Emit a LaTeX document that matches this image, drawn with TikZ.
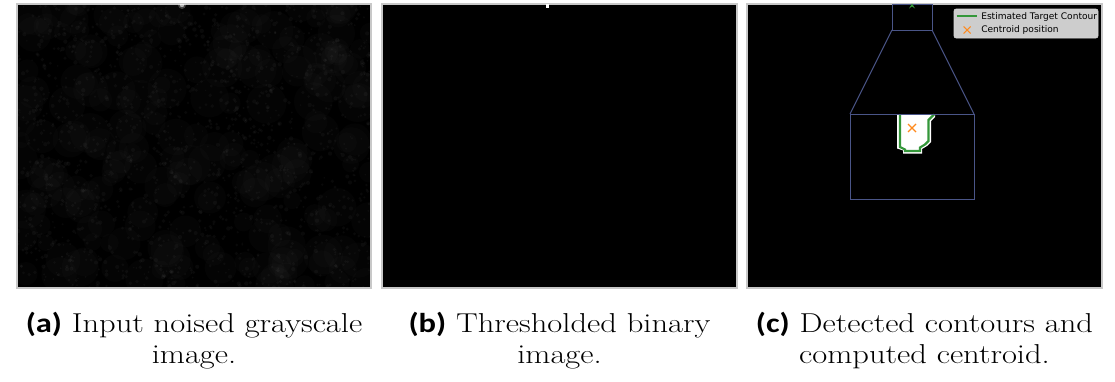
\documentclass[tikz,border=0pt]{standalone}
\usepackage{graphicx}
\usepackage{fontspec}
\usetikzlibrary{calc}
\newfontfamily\legendfont{DejaVu Sans}
\newfontfamily\labelfont{Carlito}
\definecolor{framegray}{HTML}{C8C8C8}
\definecolor{zoomblue}{HTML}{4A5588}
\definecolor{contourgreen}{HTML}{34973A}
\definecolor{centroidorange}{HTML}{FF8A1E}
\definecolor{legendgray}{HTML}{CDCDCD}
\newcommand{\sublabel}[1]{{\labelfont\bfseries(#1)}}
\newcommand{\capline}[1]{\scalebox{1.19}[1]{#1}}
\begin{document}
\begin{tikzpicture}[x=0.75pt,y=-0.75pt,
  panel/.style={draw=framegray,line width=0.8pt,fill=black},
  zoombox/.style={draw=zoomblue,line width=0.7pt,inner sep=0pt,outer sep=0pt},
  contour/.style={draw=contourgreen,line width=1.6pt,line join=miter},
  cross/.style={draw=centroidorange,line width=0.9pt},
  caption/.style={align=center,inner sep=0pt,anchor=north,
    font=\fontsize{20.5}{23}\selectfont},
  legendtext/.style={anchor=west,inner sep=0pt,font=\legendfont\fontsize{6.8}{8}\selectfont}
  ]
\useasboundingbox (0,0) rectangle (1115,382);

% ---------- (a) noisy grayscale frame ----------
\draw[panel] (17,4) rectangle (371,288);
\begin{scope}
  \clip (17.5,4.5) rectangle (370.5,287.5);
  \pgfmathsetseed{4242}
  % faint cloudy background
  \foreach \i in {1,...,220}{
    \pgfmathsetmacro\px{17+354*rnd}
    \pgfmathsetmacro\py{4+284*rnd}
    \pgfmathsetmacro\pr{8+12*rnd}
    \fill[white,opacity=0.016] (\px,\py) circle (\pr);
  }
  % fine grain
  \foreach \i in {1,...,1600}{
    \pgfmathsetmacro\px{17+354*rnd}
    \pgfmathsetmacro\py{4+284*rnd}
    \pgfmathsetmacro\pr{0.8+1.4*rnd}
    \fill[white,opacity=0.035] (\px,\py) circle (\pr);
  }
  \fill[white,opacity=0.25] (182,5) circle (4);
  \fill[white,opacity=0.6] (182,5) circle (2.2);
\end{scope}

% ---------- (b) binary frame ----------
\draw[panel] (382,4) rectangle (737,288);
\fill[white] (546,4) rectangle (548.5,7.5);

% ---------- (c) contour frame ----------
\draw[panel] (747,4) rectangle (1102,288);

% detected blob and its contour (zoomed view)
\fill[white] (897,114) -- (935,114) -- (935,117) -- (931,121) -- (931,142)
  -- (927,146) -- (922,149) -- (922,153.5) -- (903,153.5) -- (903,150.5)
  -- (897,148.5) -- cycle;
\draw[contour] (900,114) -- (900,147) -- (905,149.5) -- (905,151) -- (920,151)
  -- (920,147.5) -- (925,144.5) -- (928.5,141) -- (928.5,120) -- (932.5,116)
  -- (934,114.5);

% zoom boxes and their connecting lines
\node[zoombox,minimum width=30pt,minimum height=19.5pt] (inset) at (912,17) {};
\node[zoombox,minimum width=93pt,minimum height=63.75pt] (zoom) at (912,156.5) {};
\draw[zoombox] (inset.south west) -- (zoom.north west);
\draw[zoombox] (inset.south east) -- (zoom.north east);

% tiny target in the inset
\fill[contourgreen] (909,8.5) -- (912,3.5) -- (915,8.5) -- (912,6.5) -- cycle;

% centroid marker
\coordinate (cen) at (912,128);
\draw[cross] ($(cen)+(-4,-4)$) -- ($(cen)+(4,4)$);
\draw[cross] ($(cen)+(-4,4)$) -- ($(cen)+(4,-4)$);

% legend
\node[draw=legendgray!80!white,fill=legendgray,rounded corners=1.5pt,
  minimum width=108pt,minimum height=21.75pt,inner sep=0pt] (legend) at (1026,23.5) {};
\coordinate (lgA) at (956.5,16);
\coordinate (lgB) at (977,16);
\draw[contourgreen,line width=1.6pt] (lgA) -- (lgB);
\coordinate (lgX) at (967,30);
\draw[cross,line width=0.8pt] ($(lgX)+(-3.5,-3.5)$) -- ($(lgX)+(3.5,3.5)$);
\draw[cross,line width=0.8pt] ($(lgX)+(-3.5,3.5)$) -- ($(lgX)+(3.5,-3.5)$);
\node[legendtext] (lg1) at (981,16.5) {Estimated Target Contour};
\node[legendtext] (lg2) at (981,29.5) {Centroid position};

% ---------- captions ----------
\node[caption] (capa) at (194,312)
  {\capline{\sublabel{a} Input noised grayscale}\\\capline{image.}};
\node[caption] (capb) at (559.5,312)
  {\capline{\sublabel{b} Thresholded binary}\\\capline{image.}};
\node[caption] (capc) at (924.5,312)
  {\capline{\sublabel{c} Detected contours and}\\\capline{computed centroid.}};
\end{tikzpicture}
\end{document}
